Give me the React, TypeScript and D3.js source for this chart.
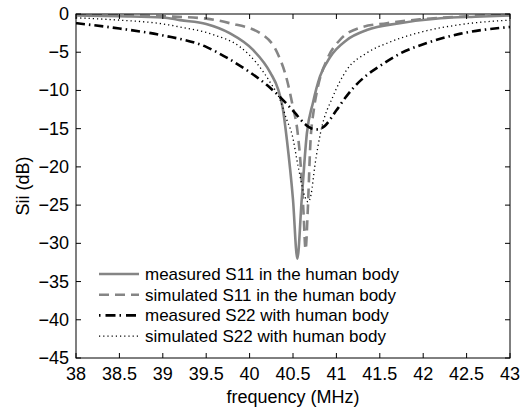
import React from "react";
import * as d3 from "d3";

// measured S11 in the human body
const s11MeasFreq = [38, 38.5, 39, 39.2, 39.5, 39.77, 40.04, 40.24, 40.33, 40.38, 40.43, 40.5, 40.55, 40.6, 40.66, 40.73, 40.81, 40.93, 41.12, 41.35, 41.73, 42.2, 42.6, 43];
const s11MeasDb = [-0.2, -0.3, -0.45, -0.8, -1.3, -2.5, -4.7, -7.7, -9.9, -12.2, -16.5, -24.3, -32, -24.3, -15.6, -11.6, -8.2, -5.6, -3.4, -2.1, -1.2, -0.55, -0.35, -0.2];

// simulated S11 in the human body
const s11SimFreq = [38, 38.5, 39, 39.5, 39.77, 40.12, 40.32, 40.43, 40.5, 40.55, 40.59, 40.62, 40.645, 40.67, 40.7, 40.74, 40.78, 40.89, 41.04, 41.27, 41.58, 41.96, 42.5, 43];
const s11SimDb = [-0.1, -0.15, -0.3, -0.6, -1.2, -2.5, -5.1, -8.6, -12.2, -15.2, -20, -25.7, -30.8, -25.7, -17, -12.5, -9.9, -6.0, -3.4, -1.8, -1.2, -0.7, -0.3, -0.1];

// measured S22 with human body
const s22MeasFreq = [38, 38.5, 39, 39.5, 39.75, 40.0, 40.2, 40.38, 40.52, 40.62, 40.72, 40.79, 40.86, 41.0, 41.1, 41.2, 41.35, 41.5, 41.73, 42.04, 42.42, 43];
const s22MeasDb = [-1.2, -1.9, -2.8, -4.3, -5.8, -7.6, -9.3, -11.2, -12.9, -14.2, -15, -15.1, -14.7, -12.6, -11.0, -9.6, -8.0, -6.8, -5.2, -3.8, -2.6, -1.7];

// simulated S22 with human body
const s22SimFreq = [38, 38.5, 39, 39.2, 39.58, 39.89, 40.08, 40.24, 40.35, 40.43, 40.49, 40.56, 40.64, 40.675, 40.71, 40.75, 40.82, 40.96, 41.12, 41.35, 41.61, 41.93, 42.42, 43];
const s22SimDb = [-0.5, -0.8, -1.3, -1.7, -2.7, -4.3, -6.4, -9.0, -11.2, -13.9, -15.8, -20, -24, -24.6, -23.5, -20, -15.4, -10.8, -7.3, -5.1, -3.7, -2.5, -1.4, -0.8];

const xTicks = [38, 38.5, 39, 39.5, 40, 40.5, 41, 41.5, 42, 42.5, 43];
const yTicks = [0, -5, -10, -15, -20, -25, -30, -35, -40, -45];

const legendLabels = [
  "measured S11 in the human body",
  "simulated S11 in the human body",
  "measured S22 with human body",
  "simulated S22 with human body",
];

const W = 523;
const H = 412;
const margin = { top: 14, right: 13, bottom: 54, left: 76 };
const font = "'Liberation Sans', Arial, Helvetica, sans-serif";

const series = [
  { freq: s11MeasFreq, db: s11MeasDb, color: "#858585", width: 2.6, dash: "none" },
  { freq: s11SimFreq, db: s11SimDb, color: "#858585", width: 2.6, dash: "10,6" },
  { freq: s22MeasFreq, db: s22MeasDb, color: "#000", width: 2.6, dash: "9,4,1.5,4" },
  { freq: s22SimFreq, db: s22SimDb, color: "#000", width: 1.3, dash: "1.2,3" },
];

const App: React.FC = () => {
  const x = d3.scaleLinear().domain([38, 43]).range([margin.left, W - margin.right]);
  const y = d3.scaleLinear().domain([-45, 0]).range([H - margin.bottom, margin.top]);

  const line = d3
    .line<[number, number]>()
    .x((d) => x(d[0]))
    .y((d) => y(d[1]))
    .curve(d3.curveMonotoneX);

  const x0 = margin.left;
  const x1 = W - margin.right;
  const y0 = H - margin.bottom;
  const y1 = margin.top;
  const tick = 5;

  return (
    <svg
      width={W}
      height={H}
      style={{ position: "absolute", left: 0, top: 0, background: "#fff" }}
      fontFamily={font}
    >
      <defs>
        <clipPath id="plot">
          <rect x={x0} y={y1} width={x1 - x0} height={y0 - y1} />
        </clipPath>
      </defs>

      {/* series */}
      <g clipPath="url(#plot)" fill="none">
        {series.map((s, i) => (
          <path
            key={i}
            d={line(s.freq.map((f, j) => [f, s.db[j]] as [number, number])) || ""}
            stroke={s.color}
            strokeWidth={s.width}
            strokeDasharray={s.dash}
          />
        ))}
      </g>

      {/* ticks on all four sides */}
      <g stroke="#000" strokeWidth={1}>
        {xTicks.map((t) => (
          <g key={"x" + t}>
            <line x1={x(t)} x2={x(t)} y1={y0} y2={y0 - tick} />
            <line x1={x(t)} x2={x(t)} y1={y1} y2={y1 + tick} />
          </g>
        ))}
        {yTicks.map((t) => (
          <g key={"y" + t}>
            <line x1={x0} x2={x0 + tick} y1={y(t)} y2={y(t)} />
            <line x1={x1} x2={x1 - tick} y1={y(t)} y2={y(t)} />
          </g>
        ))}
        <rect x={x0} y={y1} width={x1 - x0} height={y0 - y1} fill="none" />
      </g>

      {/* tick labels */}
      <g fontSize={18} fill="#000">
        {xTicks.map((t) => (
          <text key={"xl" + t} x={x(t)} y={y0 + 22} textAnchor="middle">
            {String(t)}
          </text>
        ))}
        {yTicks.map((t) => (
          <text key={"yl" + t} x={x0 - 7} y={y(t) + 6} textAnchor="end">
            {t === 0 ? "0" : "\u2212" + Math.abs(t)}
          </text>
        ))}
      </g>

      {/* axis titles */}
      <text x={(x0 + x1) / 2} y={403} textAnchor="middle" fontSize={18}>
        frequency (MHz)
      </text>
      <text
        transform={`translate(29,${(y0 + y1) / 2}) rotate(-90)`}
        textAnchor="middle"
        fontSize={18}
      >
        Sii (dB)
      </text>

      {/* legend */}
      <g>
        {legendLabels.map((label, i) => {
          const ly = 274 + i * 20.7;
          const s = series[i];
          return (
            <g key={label}>
              <line
                x1={99}
                x2={139}
                y1={ly}
                y2={ly}
                stroke={s.color}
                strokeWidth={s.width}
                strokeDasharray={i === 2 ? "1.5,5,10,4" : s.dash}
              />
              <text x={145} y={ly + 6} fontSize={17}>
                {label}
              </text>
            </g>
          );
        })}
      </g>
    </svg>
  );
};

export default App;
